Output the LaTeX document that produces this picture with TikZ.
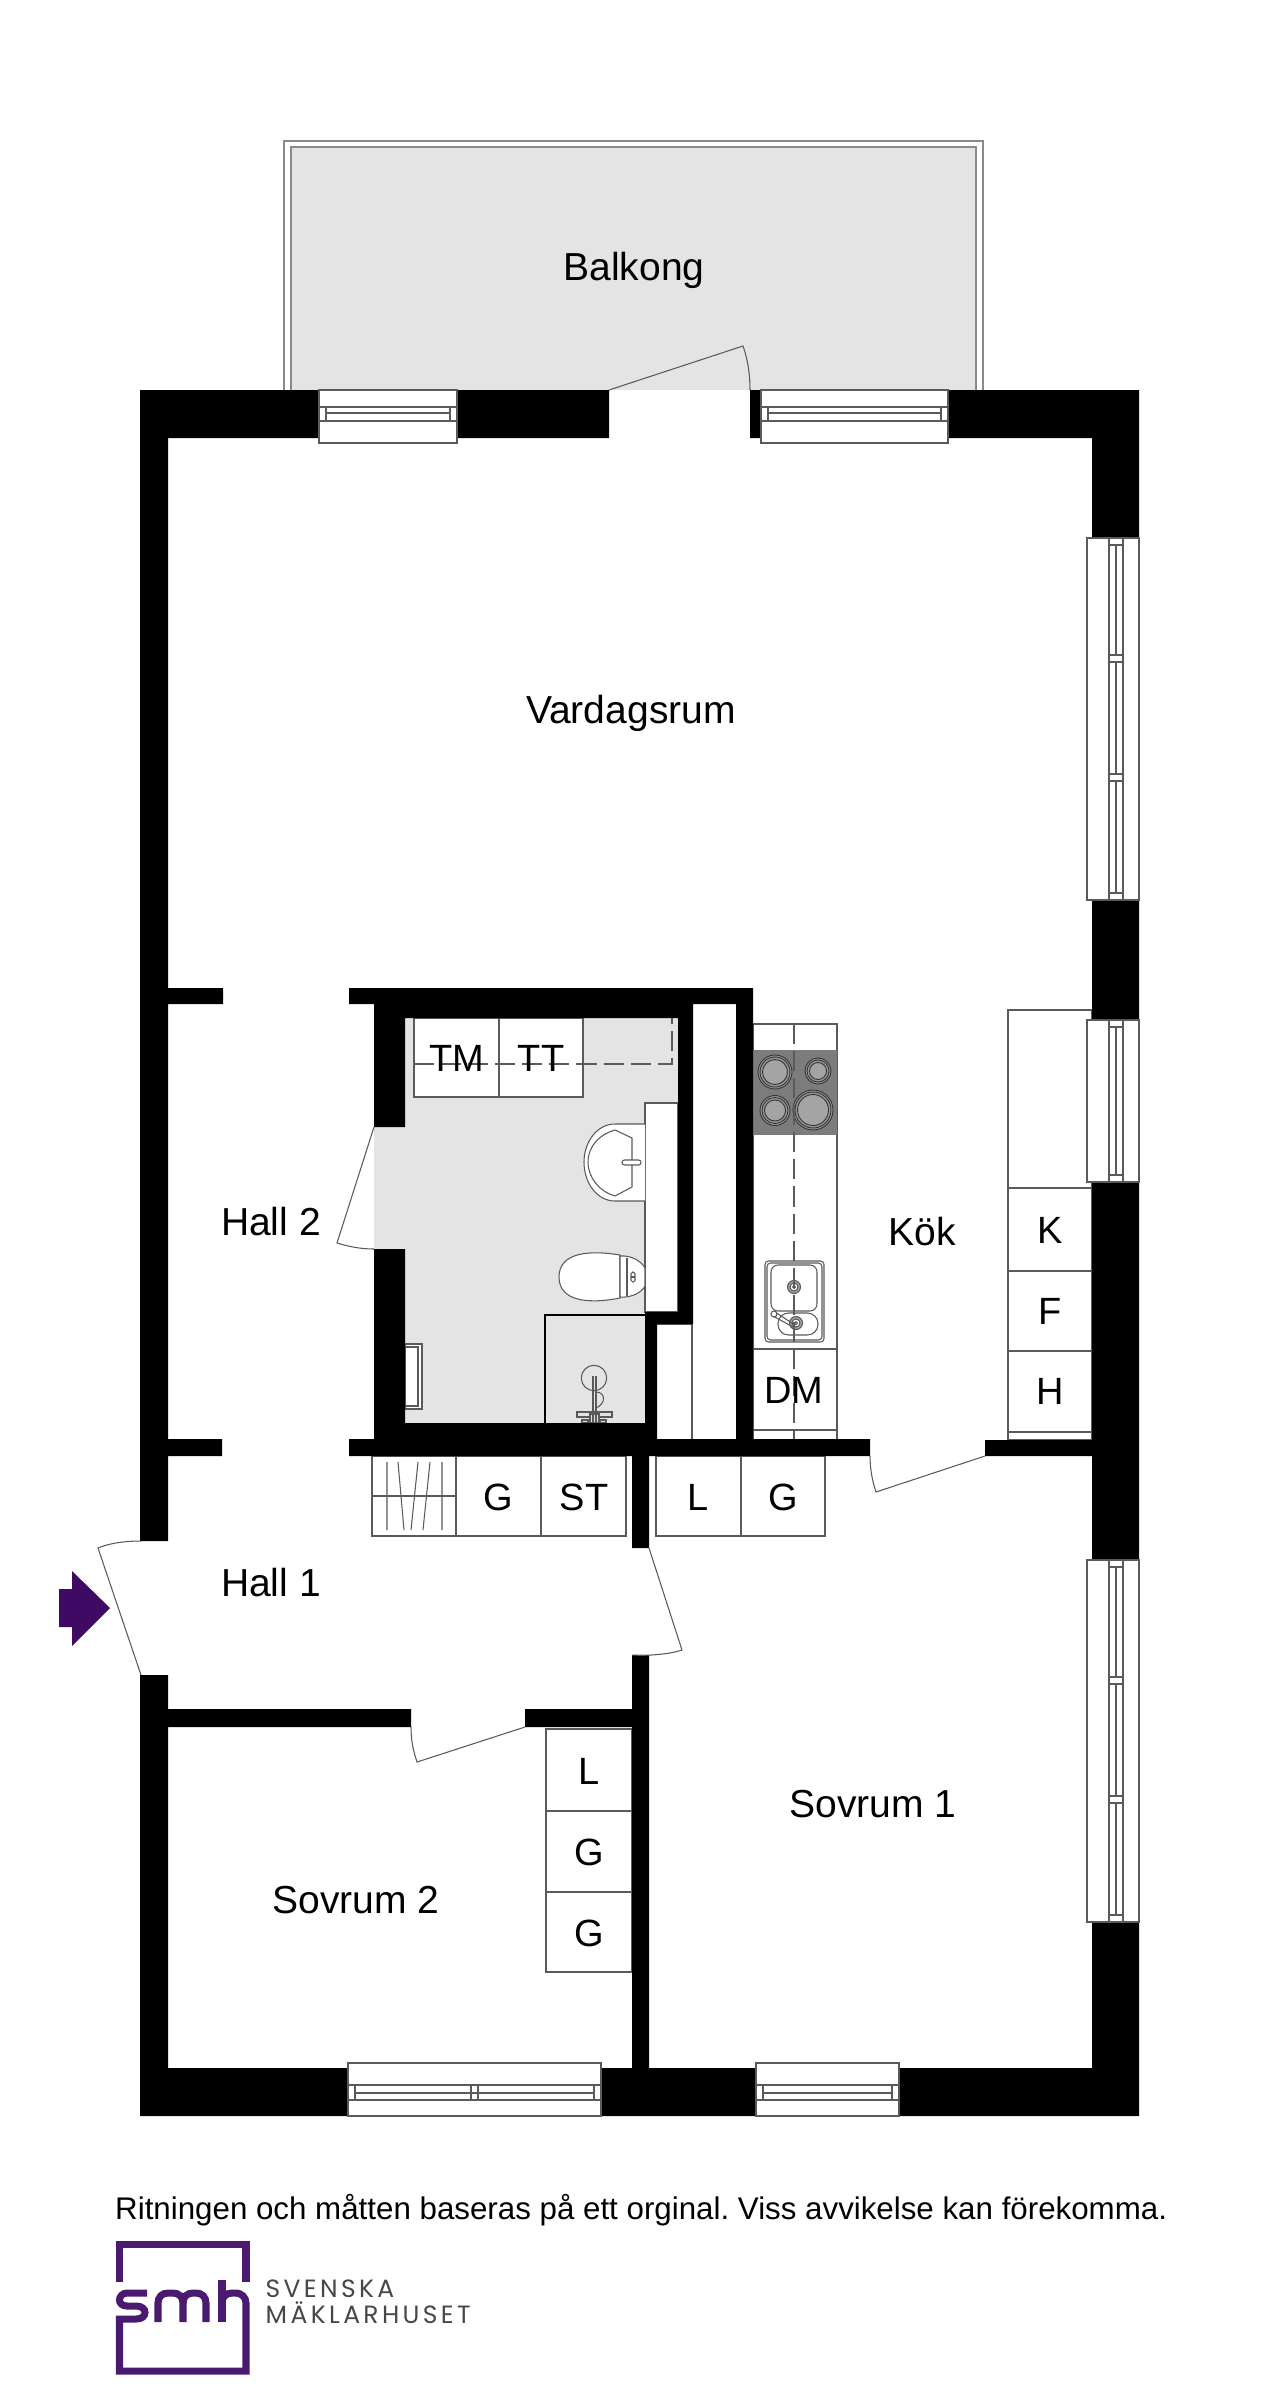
\documentclass[tikz,border=0pt]{standalone}
\usepackage{fontspec}
\setmainfont{Liberation Sans}
\newfontfamily\logofont[LetterSpace=13.5]{Poppins}
\usepackage{tikz}
\definecolor{floorgray}{HTML}{E4E4E4}
\definecolor{hobgray}{HTML}{7C7C7C}
\definecolor{plategray}{HTML}{A4A4A4}
\definecolor{linegray}{HTML}{5A5A5A}
\definecolor{balconygray}{HTML}{8A8A8A}
\definecolor{smhpurple}{HTML}{4A1A70}
\definecolor{arrowpurple}{HTML}{3F0A63}
\tikzset{
  thinline/.style={draw=linegray,line width=0.3pt},
  balconyline/.style={draw=balconygray,line width=0.3pt},
  plateline/.style={draw=black!80,line width=0.25pt},
  unitbox/.style={thinline,fill=white},
  roomlabel/.style={font=\fontsize{11.1}{13}\selectfont,inner sep=0pt},
  unitlabel/.style={font=\fontsize{10.8}{13}\selectfont,inner sep=0pt},
  dashline/.style={draw=linegray,line width=0.35pt,dash pattern=on 5.7pt off 2pt},
  logoline/.style={draw=smhpurple,line width=2pt},
  logotext/.style={anchor=base west,inner sep=0pt,text=black!72,font=\logofont\fontsize{7.1}{8}\selectfont},
}
\begin{document}
\frenchspacing
\begin{tikzpicture}[x=0.01cm,y=-0.01cm]
\fill[white] (0,0) rectangle (1280,2397);
\useasboundingbox (0,0) rectangle (1280,2397);

\path[balconyline,fill=white] (284,390) -- (284,141) -- (983,141) -- (983,390);
\path[balconyline,fill=floorgray] (291,390) -- (291,147) -- (976,147) -- (976,390);
\path[thinline] (609,390) -- (743,346) .. controls (748,360) and (750,375) .. (750,390);

\fill[floorgray] (374,1004) rectangle (693,1439);
\fill[white] (693,1004) rectangle (736,1439);
\fill[white] (657,1324) rectangle (693,1439);
\path[thinline] (692,1324) -- (692,1439);
\path[thinline] (657,1324) -- (692,1324);
\path[unitbox] (414,1018) rectangle (499,1097);
\path[unitbox] (499,1018) rectangle (583,1097);
\path[unitbox] (645,1103) rectangle (678,1312);

\path[unitbox] (645,1124) -- (615,1124) .. controls (597,1124) and (584,1142) .. (584,1162) .. controls (584,1183) and (597,1201) .. (615,1201) -- (645,1201);
\path[thinline] (632,1138) -- (615,1130) .. controls (600,1134) and (588,1146) .. (588,1162) .. controls (588,1178) and (600,1192) .. (615,1196) -- (632,1187) -- cycle;
\path[unitbox,rounded corners=0.7pt] (622,1160) rectangle (641,1165);
\path[unitbox] (620,1255) .. controls (590,1250) and (559,1252) .. (559,1277) .. controls (559,1302) and (590,1304) .. (620,1298) -- cycle;
\path[unitbox] (620,1256) .. controls (632,1255) and (642,1262) .. (645,1268) -- (645,1286) .. controls (642,1292) and (632,1298) .. (620,1297) -- cycle;
\path[thinline] (627,1258) -- (627,1296);
\path[thinline,rounded corners=0.5pt] (631,1272) rectangle (635,1282);
\path[thinline] (631,1277) -- (635,1277);

\path[draw=black,line width=0.6pt] (545,1423) -- (545,1315) -- (645,1315);
\path[thinline] (594,1378) circle (12.7);
\path[thinline] (596,1392) .. controls (606,1392) and (606,1404) .. (596,1408);
\path[thinline,fill=floorgray] (577,1412) rectangle (612,1417);
\path[thinline,fill=floorgray] (590,1414) rectangle (599,1423);
\path[thinline,fill=floorgray] (582,1420) rectangle (588,1423);
\path[thinline,fill=floorgray] (600,1420) rectangle (606,1423);
\path[thinline] (593,1376) -- (593,1422) (596,1376) -- (596,1422);

\path[unitbox] (405,1344) rectangle (422,1409);
\path[thinline] (405,1347) -- (418,1347) -- (418,1406) -- (405,1406);

\path[unitbox] (753,1024) rectangle (837,1440);
\fill[hobgray] (753,1050) rectangle (837,1135);
\foreach \platex/\platey/\plater in {775/1072/17,818/1071/13,775/1110.5/15,813/1110/20} {
  \path[plateline,fill=hobgray!80] (\platex,\platey) circle (\plater);
  \path[plateline,fill=hobgray!80] (\platex,\platey) circle (\plater-2);
  \path[plateline,fill=plategray] (\platex,\platey) circle (\plater-4.5);
}
\path[thinline] (753,1349) -- (837,1349);
\path[thinline] (753,1430) -- (837,1430);
\path[unitbox,rounded corners=1pt] (765,1261) rectangle (824,1342);
\path[thinline,rounded corners=1pt] (767,1263) rectangle (822,1340);
\path[unitbox,rounded corners=2pt] (771,1265) rectangle (817,1311);
\path[unitbox,rounded corners=3pt] (778,1313) rectangle (818,1335);
\foreach \drainx/\drainy in {794/1287,796/1323} {
  \path[thinline,fill=plategray] (\drainx,\drainy) circle (6.5);
  \path[thinline,fill=white] (\drainx,\drainy) circle (4);
  \path[thinline] (\drainx,\drainy) circle (1.5);
}
\path[thinline] (775,1312) -- (795,1325) (773,1316) -- (793,1327);
\path[thinline,fill=white] (774,1314) circle (3);
\path[dashline] (794,1024) -- (794,1440);

\path[unitbox] (1008,1010) rectangle (1092,1188);
\path[unitbox] (1008,1188) rectangle (1092,1271);
\path[unitbox] (1008,1271) rectangle (1092,1351);
\path[unitbox] (1008,1351) rectangle (1092,1440);
\path[thinline] (1008,1432) -- (1092,1432);

\path[unitbox] (372,1456) rectangle (456,1536);
\path[unitbox] (456,1456) rectangle (541,1536);
\path[unitbox] (541,1456) rectangle (626,1536);
\path[unitbox] (656,1456) rectangle (741,1536);
\path[unitbox] (741,1456) rectangle (825,1536);
\path[thinline] (372,1496) -- (456,1496);
\path[thinline] (387,1462) -- (387,1530) (398,1462) -- (404,1530) (418,1462) -- (411,1530) (430,1462) -- (423,1530) (442,1462) -- (442,1530);

\path[unitbox] (546,1729) rectangle (632,1811);
\path[unitbox] (546,1811) rectangle (632,1892);
\path[unitbox] (546,1892) rectangle (632,1972);

\path[dashline] (414,1064) -- (672,1064) -- (672,1018);

\fill[black]
  (140,390) rectangle (609,438)
  (750,390) rectangle (1139,438)
  (140,390) rectangle (168,1541)
  (140,1675) rectangle (168,2116)
  (140,2068) rectangle (1139,2116)
  (1092,390) rectangle (1139,538)
  (1092,900) rectangle (1139,1020)
  (1092,1182) rectangle (1139,1560)
  (1092,1922) rectangle (1139,2116)
  (168,988) rectangle (223,1004)
  (168,1439) rectangle (222,1456)
  (349,988) rectangle (753,1004)
  (374,1004) rectangle (693,1018)
  (374,1018) rectangle (405,1127)
  (374,1249) rectangle (405,1439)
  (678,1004) rectangle (693,1324)
  (645,1312) rectangle (693,1324)
  (645,1312) rectangle (657,1439)
  (374,1423) rectangle (657,1439)
  (736,988) rectangle (753,1439)
  (349,1439) rectangle (870,1456)
  (985,1440) rectangle (1092,1456)
  (632,1456) rectangle (649,1548)
  (632,1655) rectangle (649,2068)
  (168,1709) rectangle (411,1727)
  (525,1709) rectangle (632,1727);

\path[thinline] (985,1456) -- (876,1492) .. controls (872,1480) and (870,1468) .. (870,1456);
\path[thinline] (525,1727) -- (417,1762) .. controls (413,1750) and (411,1740) .. (411,1727);
\path[thinline] (141,1675) -- (98,1548) .. controls (110,1543) and (125,1541) .. (141,1541);
\path[thinline] (649,1548) -- (682,1650) .. controls (670,1654) and (650,1656) .. (632,1655);
\path[thinline] (374,1127) -- (337,1243) .. controls (350,1247) and (362,1249) .. (374,1249);
\path[fill=arrowpurple] (59,1589) -- (72,1589) -- (72,1571) -- (110,1608) -- (72,1646) -- (72,1627) -- (59,1627) -- cycle;

\path[unitbox] (319,390) rectangle (457,443);
\path[thinline] (319,407) -- (457,407) (326,413) -- (450,413) (319,421) -- (457,421) (326,407) -- (326,421) (450,407) -- (450,421);
\path[unitbox] (761,390) rectangle (948,443);
\path[thinline] (761,407) -- (948,407) (768,413) -- (941,413) (761,421) -- (948,421) (768,407) -- (768,421) (941,407) -- (941,421);
\path[unitbox] (348,2063) rectangle (601,2116);
\path[thinline] (348,2085) -- (601,2085) (355,2093) -- (594,2093) (348,2100) -- (601,2100) (355,2085) -- (355,2100) (471,2085) -- (471,2100) (478,2085) -- (478,2100) (594,2085) -- (594,2100);
\path[unitbox] (756,2063) rectangle (899,2116);
\path[thinline] (756,2085) -- (899,2085) (763,2093) -- (892,2093) (756,2100) -- (899,2100) (763,2085) -- (763,2100) (892,2085) -- (892,2100);

\path[unitbox] (1087,538) rectangle (1139,900);
\path[thinline] (1109,538) -- (1109,900) (1123,538) -- (1123,900);
\path[thinline] (1109,545) -- (1123,545) (1109,655) -- (1123,655) (1109,662) -- (1123,662) (1109,774) -- (1123,774) (1109,781) -- (1123,781) (1109,893) -- (1123,893);
\path[thinline] (1116,545) -- (1116,655) (1116,662) -- (1116,774) (1116,781) -- (1116,893);
\path[unitbox] (1087,1020) rectangle (1139,1182);
\path[thinline] (1109,1020) -- (1109,1182) (1123,1020) -- (1123,1182);
\path[thinline] (1109,1027) -- (1123,1027) (1109,1175) -- (1123,1175) (1116,1027) -- (1116,1175);
\path[unitbox] (1087,1560) rectangle (1139,1922);
\path[thinline] (1109,1560) -- (1109,1922) (1123,1560) -- (1123,1922);
\path[thinline] (1109,1567) -- (1123,1567) (1109,1677) -- (1123,1677) (1109,1684) -- (1123,1684) (1109,1796) -- (1123,1796) (1109,1803) -- (1123,1803) (1109,1915) -- (1123,1915);
\path[thinline] (1116,1567) -- (1116,1677) (1116,1684) -- (1116,1796) (1116,1803) -- (1116,1915);

\draw (634,270) node[roomlabel] (balkong) {Balkong};
\draw (631,713) node[roomlabel] (vardagsrum) {Vardagsrum};
\draw (271,1222) node[roomlabel] (hall2) {Hall 2};
\draw (922,1232) node[roomlabel] (kok) {Kök};
\draw (271,1583) node[roomlabel] (hall1) {Hall 1};
\draw (873,1804) node[roomlabel] (sovrum1) {Sovrum 1};
\draw (356,1900) node[roomlabel] (sovrum2) {Sovrum 2};

\draw (457,1058) node[unitlabel] (tm) {TM};
\draw (541,1058) node[unitlabel] (tt) {TT};
\draw (794,1390) node[unitlabel] (dm) {DM};
\draw (1050,1230) node[unitlabel] (kyl) {K};
\draw (1050,1311) node[unitlabel] (frys) {F};
\draw (1050,1391) node[unitlabel] (hall) {H};
\draw (498,1497) node[unitlabel] (gone) {G};
\draw (584,1497) node[unitlabel] (st) {ST};
\draw (698,1497) node[unitlabel] (lone) {L};
\draw (783,1497) node[unitlabel] (gtwo) {G};
\draw (589,1771) node[unitlabel] (ltwo) {L};
\draw (589,1852) node[unitlabel] (gthree) {G};
\draw (589,1933) node[unitlabel] (gfour) {G};

\draw (114.5,2210) node[anchor=west,inner sep=0pt,font=\fontsize{8.9}{11}\selectfont] (note) {Ritningen och måtten baseras på ett orginal. Viss avvikelse kan förekomma.};

\path[logoline] (119.5,2282) -- (119.5,2244.5) -- (246,2244.5) -- (246,2282);
\path[logoline] (147,2293) -- (127,2293) .. controls (122,2293) and (119.5,2297) .. (119.5,2300) .. controls (119.5,2303) and (122,2306) .. (127,2306) -- (136,2306) .. controls (142,2306) and (145,2309) .. (145,2312.5) .. controls (145,2316) and (142,2319) .. (136,2319) -- (119.5,2319) -- (119.5,2371) -- (246,2371) -- (246,2303) .. controls (246,2297) and (241,2293) .. (236,2293) -- (232,2293) .. controls (226,2293) and (222,2297) .. (222,2303);
\path[logoline] (222,2280) -- (222,2322);
\path[logoline] (158,2322) -- (158,2303) .. controls (158,2297) and (162,2293) .. (168,2293) -- (173,2293) .. controls (179,2293) and (183,2297) .. (183,2303) -- (183,2322);
\path[logoline] (183,2303) .. controls (183,2297) and (187,2293) .. (193,2293) -- (196,2293) .. controls (202,2293) and (206,2297) .. (206,2303) -- (206,2322);

\draw (265,2297) node[logotext] (svenska) {SVENSKA};
\draw (265,2323) node[logotext] (maklarhuset) {MÄKLARHUSET};
\end{tikzpicture}
\end{document}
